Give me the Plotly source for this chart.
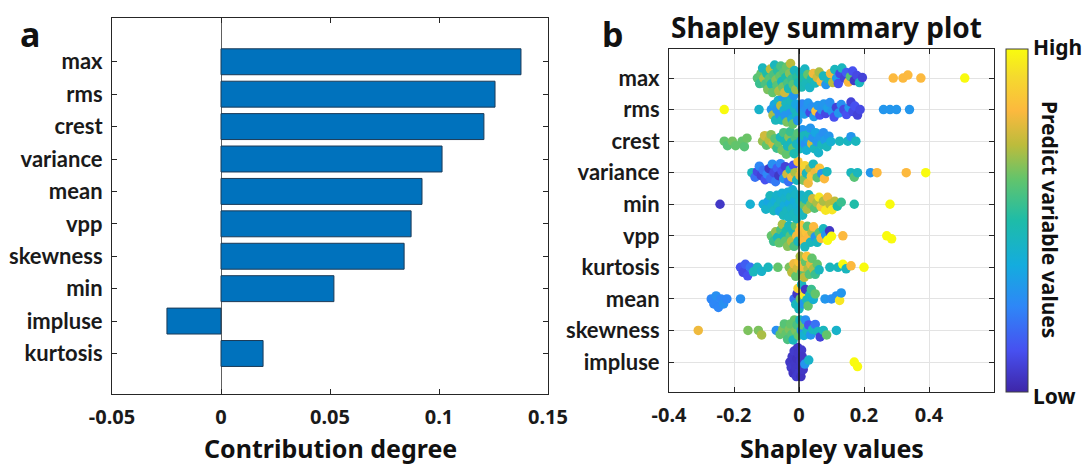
import math
import plotly.graph_objects as go

# ---------------- data ----------------
# panel a (bottom -> top)
bar_features = ['kurtosis', 'impluse', 'min', 'skewness', 'vpp', 'mean', 'variance', 'crest', 'rms', 'max']
bar_values = [0.0193, -0.0248, 0.0518, 0.084, 0.0872, 0.0922, 0.1014, 0.1206, 0.1257, 0.1376]

# panel b (bottom -> top)
shap_features = ['impluse', 'skewness', 'mean', 'kurtosis', 'vpp', 'min', 'variance', 'crest', 'rms', 'max']

# (shapley value, normalised feature value)
max_pts = [(-0.128,0.60),(-0.121,0.55),(-0.117,0.62),(-0.112,0.45),(-0.108,0.70),(-0.103,0.58),(-0.099,0.50),(-0.096,0.65),(-0.091,0.60),(-0.088,0.72),(-0.085,0.48),(-0.081,0.62),(-0.078,0.58),(-0.075,0.45),(-0.071,0.66),(-0.068,0.60),(-0.066,0.52),(-0.062,0.70),(-0.059,0.62),(-0.056,0.57),(-0.053,0.45),(-0.050,0.64),(-0.047,0.60),(-0.044,0.75),(-0.041,0.50),(-0.038,0.62),(-0.035,0.58),(-0.032,0.47),(-0.029,0.66),(-0.026,0.72),(-0.022,0.55),(-0.018,0.60),(-0.014,0.45),(-0.010,0.68),(-0.006,0.52),(-0.002,0.46),
           (0.004,0.45),(0.008,0.47),(0.013,0.50),(0.018,0.44),(0.022,0.46),(0.027,0.62),(0.033,0.43),(0.038,0.48),(0.044,0.80),(0.050,0.45),(0.056,0.75),(0.062,0.70),(0.068,0.82),(0.075,0.45),(0.083,0.30),(0.090,0.44),(0.097,0.80),(0.104,0.72),(0.110,0.45),(0.116,0.32),(0.121,0.12),(0.126,0.10),(0.132,0.45),(0.140,0.08),(0.146,0.15),(0.152,0.82),(0.158,0.60),(0.165,0.12),(0.170,0.05),(0.178,0.10),(0.186,0.45),(0.195,0.08),(0.290,0.82),(0.320,0.82),(0.335,0.82),(0.375,0.82),(0.510,1.0)]
rms_pts = [(-0.230,1.0),(-0.123,0.42),(-0.085,0.30),(-0.080,0.70),(-0.076,0.35),(-0.072,0.45),(-0.068,0.30),(-0.064,0.42),(-0.060,0.28),(-0.056,0.72),(-0.053,0.45),(-0.050,0.32),(-0.046,0.40),(-0.043,0.30),(-0.040,0.45),(-0.037,0.65),(-0.034,0.33),(-0.031,0.42),(-0.028,0.30),(-0.025,0.45),(-0.022,0.38),(-0.019,0.62),(-0.016,0.30),(-0.013,0.44),(-0.010,0.35),(-0.007,0.45),(-0.004,0.30),
           (0.005,0.30),(0.010,0.25),(0.016,0.32),(0.022,0.28),(0.028,0.30),(0.034,0.10),(0.040,0.28),(0.046,0.32),(0.052,0.85),(0.058,0.30),(0.064,0.12),(0.070,0.28),(0.076,0.30),(0.082,0.10),(0.088,0.33),(0.095,0.28),(0.102,0.30),(0.108,0.12),(0.115,0.08),(0.122,0.30),(0.130,0.28),(0.138,0.10),(0.146,0.12),(0.154,0.30),(0.160,0.08),(0.166,0.10),(0.172,0.12),(0.180,0.08),(0.188,0.10),(0.260,0.30),(0.280,0.30),(0.300,0.30),(0.340,0.30)]
crest_pts = [(-0.230,0.62),(-0.220,0.60),(-0.205,0.64),(-0.195,0.62),(-0.175,0.62),(-0.168,0.60),(-0.160,0.63),
             (-0.112,0.68),(-0.106,0.75),(-0.100,0.62),(-0.092,0.72),(-0.086,0.66),(-0.080,0.75),(-0.074,0.60),(-0.068,0.55),(-0.062,0.62),(-0.057,0.45),(-0.052,0.64),(-0.047,0.58),(-0.043,0.48),(-0.039,0.62),(-0.035,0.45),(-0.031,0.66),(-0.027,0.55),(-0.023,0.45),(-0.019,0.62),(-0.015,0.48),(-0.011,0.58),(-0.007,0.45),(-0.003,0.60),
             (0.003,0.45),(0.007,0.35),(0.011,0.30),(0.015,0.45),(0.019,0.28),(0.023,0.40),(0.027,0.32),(0.031,0.45),(0.035,0.30),(0.039,0.75),(0.043,0.28),(0.047,0.45),(0.051,0.35),(0.055,0.30),(0.060,0.42),(0.065,0.30),(0.070,0.45),(0.075,0.28),(0.080,0.32),(0.086,0.45),(0.092,0.30),(0.098,0.40),(0.125,0.45),(0.150,0.44),(0.160,0.30),(0.175,0.45)]
variance_pts = [(-0.145,0.45),(-0.135,0.20),(-0.128,0.10),(-0.122,0.25),(-0.116,0.08),(-0.110,0.20),(-0.104,0.12),(-0.098,0.25),(-0.092,0.05),(-0.087,0.18),(-0.082,0.28),(-0.077,0.10),(-0.072,0.22),(-0.067,0.15),(-0.062,0.05),(-0.057,0.25),(-0.052,0.12),(-0.047,0.30),(-0.042,0.08),(-0.037,0.75),(-0.032,0.20),(-0.027,0.45),(-0.022,0.80),(-0.017,0.12),(-0.012,0.70),(-0.007,0.45),(-0.003,0.85),
                (0.003,0.78),(0.008,0.82),(0.013,0.65),(0.018,0.90),(0.023,0.45),(0.028,0.80),(0.033,0.72),(0.038,0.85),(0.044,0.45),(0.050,0.80),(0.056,0.60),(0.063,0.85),(0.070,0.30),(0.078,0.82),(0.086,0.45),(0.160,0.45),(0.170,0.60),(0.180,0.45),(0.220,0.30),(0.240,0.82),(0.330,0.82),(0.390,1.0)]
min_pts = [(-0.243,0.05),(-0.150,0.40),(-0.110,0.38),(-0.102,0.42),(-0.095,0.35),(-0.089,0.45),(-0.083,0.40),(-0.078,0.45),(-0.073,0.38),(-0.068,0.42),(-0.064,0.45),(-0.060,0.35),(-0.056,0.43),(-0.052,0.40),(-0.048,0.45),(-0.045,0.38),(-0.042,0.42),(-0.038,0.45),(-0.035,0.40),(-0.032,0.44),(-0.029,0.36),(-0.026,0.45),(-0.023,0.42),(-0.020,0.40),(-0.017,0.45),(-0.014,0.38),(-0.011,0.43),(-0.008,0.45),(-0.005,0.40),(-0.002,0.42),
           (0.003,0.45),(0.007,0.42),(0.011,0.45),(0.015,0.62),(0.020,0.45),(0.025,0.70),(0.030,0.45),(0.036,0.65),(0.042,0.75),(0.048,0.60),(0.055,0.70),(0.062,0.95),(0.068,0.85),(0.075,0.70),(0.082,0.95),(0.088,0.80),(0.095,0.72),(0.102,0.95),(0.110,0.72),(0.118,0.50),(0.130,0.55),(0.170,0.50),(0.280,1.0)]
vpp_pts = [(-0.085,0.62),(-0.078,0.55),(-0.072,0.68),(-0.066,0.45),(-0.061,0.62),(-0.056,0.58),(-0.051,0.70),(-0.047,0.45),(-0.043,0.62),(-0.039,0.50),(-0.035,0.66),(-0.031,0.45),(-0.027,0.60),(-0.023,0.72),(-0.019,0.45),(-0.015,0.58),(-0.011,0.62),(-0.007,0.80),(-0.003,0.45),
           (0.002,0.82),(0.006,0.85),(0.010,0.80),(0.014,0.82),(0.018,0.45),(0.022,0.85),(0.026,0.60),(0.030,0.82),(0.035,0.45),(0.040,0.70),(0.045,0.82),(0.050,0.30),(0.056,0.45),(0.062,0.60),(0.068,0.82),(0.075,0.45),(0.082,0.30),(0.088,1.0),(0.094,0.05),(0.100,1.0),(0.135,0.82),(0.270,1.0),(0.285,1.0)]
kurtosis_pts = [(-0.180,0.12),(-0.172,0.10),(-0.165,0.15),(-0.158,0.12),(-0.150,0.20),(-0.140,0.45),(-0.128,0.45),(-0.115,0.42),(-0.095,0.45),(-0.065,0.62),(-0.030,0.65),(-0.022,0.72),(-0.016,0.80),(-0.010,0.62),(-0.005,0.75),(0.000,0.85),(0.004,0.70),(0.008,0.60),(0.012,0.80),(0.016,0.72),(0.020,0.62),(0.024,0.85),(0.028,0.70),(0.032,0.60),(0.036,0.78),(0.040,0.62),(0.045,0.70),(0.050,0.55),(0.056,0.62),(0.062,0.45),(0.095,0.45),(0.120,0.45),(0.135,1.0),(0.145,0.45),(0.160,0.82),(0.200,1.0)]
mean_pts = [(-0.270,0.25),(-0.262,0.25),(-0.255,0.28),(-0.248,0.25),(-0.240,0.25),(-0.232,0.28),(-0.222,0.25),(-0.180,0.28),(-0.015,0.20),(-0.010,0.45),(-0.006,0.05),(-0.003,0.90),(0.000,0.45),(0.004,0.62),(0.008,0.45),(0.012,0.30),(0.016,0.95),(0.020,0.05),(0.024,0.45),(0.028,0.62),(0.033,0.45),(0.038,0.55),(0.044,0.40),(0.050,0.62),(0.080,0.30),(0.100,0.28),(0.115,0.28),(0.125,0.95),(0.130,0.30)]
skewness_pts = [(-0.310,0.80),(-0.157,0.65),(-0.125,0.65),(-0.115,0.70),(-0.070,0.28),(-0.058,0.62),(-0.050,0.65),(-0.045,0.60),(-0.040,0.62),(-0.035,0.58),(-0.030,0.65),(-0.026,0.62),(-0.022,0.60),(-0.018,0.45),(-0.014,0.62),(-0.010,0.65),(-0.006,0.58),(-0.002,0.62),
                (0.003,0.45),(0.007,0.30),(0.011,0.62),(0.015,0.40),(0.020,0.28),(0.025,0.45),(0.030,0.12),(0.036,0.30),(0.042,0.45),(0.050,0.20),(0.058,0.45),(0.065,0.08),(0.075,0.45),(0.085,0.62),(0.115,0.42)]
impluse_pts = [(-0.028,0.05),(-0.024,0.06),(-0.021,0.05),(-0.018,0.04),(-0.015,0.06),(-0.012,0.05),(-0.010,0.05),(-0.008,0.06),(-0.006,0.04),(-0.004,0.05),(-0.002,0.05),(0.000,0.06),(0.002,0.05),(0.004,0.05),(0.006,0.04),(0.008,0.06),(0.010,0.05),(0.013,0.05),(0.018,0.30),(0.030,0.42),(0.170,1.0),(0.180,1.0)]

shap_points = {'max': max_pts, 'rms': rms_pts, 'crest': crest_pts, 'variance': variance_pts,
               'min': min_pts, 'vpp': vpp_pts, 'kurtosis': kurtosis_pts, 'mean': mean_pts,
               'skewness': skewness_pts, 'impluse': impluse_pts}

parula = [[0.00, '#3E26A8'], [0.12, '#4750F0'], [0.25, '#2E87F7'], [0.37, '#14ACDE'],
          [0.50, '#1EBCA8'], [0.62, '#62C46C'], [0.72, '#BCBC3C'], [0.82, '#FCB93E'],
          [0.92, '#F5DA2E'], [1.00, '#F9FB0E']]

# ---------------- layout geometry ----------------
W, H = 1086, 467
L_x0, L_x1, L_y0, L_y1 = 112, 548, 18, 394      # panel a box (px)
R_x0, R_x1, R_y0, R_y1 = 669, 994, 49, 392      # panel b box (px)
L_yr = [-0.25, 11.35]
R_xr = [-0.4, 0.6]
R_yr = [0.05, 10.92]
px_per_x = (R_x1 - R_x0) / (R_xr[1] - R_xr[0])
px_per_y = (R_y1 - R_y0) / (R_yr[1] - R_yr[0])


def swarm_offsets(xs, dmin=5.5, step=0.5, maxoff=14.5):
    """beeswarm layout: vertical pixel offsets so markers do not pile up"""
    placed = []
    offs = [0.0] * len(xs)
    order = sorted(range(len(xs)), key=lambda i: xs[i])
    for n, i in enumerate(order):
        xp = xs[i] * px_per_x
        best, bestd = 0.0, -1.0
        nsteps = int(maxoff / step)
        for k in range(nsteps + 1):
            signs = [0] if k == 0 else ([1, -1] if n % 2 == 0 else [-1, 1])
            found = False
            for s in signs:
                oy = s * k * step
                d = min((math.hypot(xp - a, oy - b) for a, b in placed), default=1e9)
                if d >= dmin:
                    best, found = oy, True
                    break
                if d > bestd:
                    bestd, best = d, oy
            if found:
                break
        placed.append((xp, best))
        offs[i] = best
    return offs


sx, sy, sc = [], [], []
for row, feat in enumerate(shap_features, start=1):
    pts = shap_points[feat]
    xs = [p[0] for p in pts]
    cs = [p[1] for p in pts]
    offs = swarm_offsets(xs)
    sx += xs
    sy += [row + o / px_per_y for o in offs]
    sc += cs

fig = go.Figure()

fig.add_trace(go.Bar(
    x=bar_values, y=list(range(1, len(bar_features) + 1)), orientation='h', width=0.8,
    marker=dict(color='#0072BD', line=dict(color='#1B3A57', width=1)),
    xaxis='x', yaxis='y', showlegend=False))

fig.add_trace(go.Scatter(
    x=sx, y=sy, mode='markers', xaxis='x2', yaxis='y2', showlegend=False,
    marker=dict(size=9.5, color=sc, colorscale=parula, cmin=0, cmax=1, line=dict(width=0),
                showscale=True,
                colorbar=dict(x=1006 / W, xanchor='left', y=1 - R_y1 / H, yanchor='bottom',
                              len=(R_y1 - R_y0) / H, lenmode='fraction', thickness=22,
                              thicknessmode='pixels', outlinecolor='#404040', outlinewidth=1,
                              xpad=0, ypad=0, showticklabels=False, ticks=''))))

tick_font = dict(family='Noto Sans', size=20, color='#1a1a1a', weight='bold')
cat_font = dict(family='Lato', size=22, color='#1a1a1a', weight='bold')

axis_common = dict(showline=True, linecolor='#262626', linewidth=1, mirror='ticks',
                   ticks='inside', ticklen=5, tickcolor='#262626', automargin=False)

fig.update_layout(
    width=W, height=H, paper_bgcolor='white', plot_bgcolor='white',
    margin=dict(l=0, r=0, t=0, b=0, pad=0, autoexpand=False),
    xaxis=dict(domain=[L_x0 / W, L_x1 / W], range=[-0.05, 0.15],
               tickvals=[-0.05, 0, 0.05, 0.1, 0.15], ticktext=['-0.05', '0', '0.05', '0.1', '0.15'],
               showgrid=False, zeroline=True, zerolinecolor='#606060', zerolinewidth=1,
               tickfont=tick_font, ticklabelstandoff=5, anchor='y', **axis_common),
    yaxis=dict(domain=[1 - L_y1 / H, 1 - L_y0 / H], range=L_yr,
               tickvals=list(range(1, len(bar_features) + 1)), ticktext=bar_features,
               showgrid=False, zeroline=False, tickfont=cat_font, ticklabelstandoff=4,
               anchor='x', **axis_common),
    xaxis2=dict(domain=[R_x0 / W, R_x1 / W], range=R_xr,
                tickvals=[-0.4, -0.2, 0, 0.2, 0.4], ticktext=['-0.4', '-0.2', '0', '0.2', '0.4'],
                showgrid=True, gridcolor='#E3E3E3', gridwidth=1, zeroline=False,
                tickfont=tick_font, ticklabelstandoff=5, anchor='y2', **axis_common),
    yaxis2=dict(domain=[1 - R_y1 / H, 1 - R_y0 / H], range=R_yr,
                tickvals=list(range(1, len(shap_features) + 1)), ticktext=shap_features,
                showgrid=True, gridcolor='#E3E3E3', gridwidth=1, zeroline=False,
                tickfont=cat_font, ticklabelstandoff=4, anchor='x2', **axis_common),
)

# black zero line on top of the swarm
fig.add_shape(type='line', xref='x2', yref='y2 domain', x0=0, x1=0, y0=0, y1=1,
              line=dict(color='#111111', width=1.5), layer='above')

title_font = dict(family='Noto Sans', size=25, color='#111111', weight='bold')
ann = [
    dict(text='a', x=30 / W, y=1 - 34 / H, font=dict(family='Noto Sans', size=34, color='#111', weight='bold')),
    dict(text='b', x=613 / W, y=1 - 34 / H, font=dict(family='Noto Sans', size=34, color='#111', weight='bold')),
    dict(text='Shapley summary plot', x=(R_x0 + R_x1) / 2 / W - 0.005, y=1 - 27 / H,
         font=dict(family='Noto Sans', size=28, color='#111', weight='bold')),
    dict(text='Contribution degree', x=(L_x0 + L_x1) / 2 / W, y=1 - 448 / H, font=title_font),
    dict(text='Shapley values', x=(R_x0 + R_x1) / 2 / W, y=1 - 448 / H, font=title_font),
    dict(text='High', x=1057 / W, y=1 - 47 / H, font=dict(family='Noto Sans', size=21, color='#111', weight='bold')),
    dict(text='Low', x=1054 / W, y=1 - 396 / H, font=dict(family='Noto Sans', size=21, color='#111', weight='bold')),
    dict(text='Predict variable values', x=1050 / W, y=1 - 219 / H, textangle=90,
         font=dict(family='Noto Sans', size=21, color='#111', weight='bold')),
]
for a in ann:
    fig.add_annotation(xref='paper', yref='paper', showarrow=False, xanchor='center',
                       yanchor='middle', **a)

fig.write_html('out.html', config={'displayModeBar': False},
               post_script="document.body.style.margin='0';")
